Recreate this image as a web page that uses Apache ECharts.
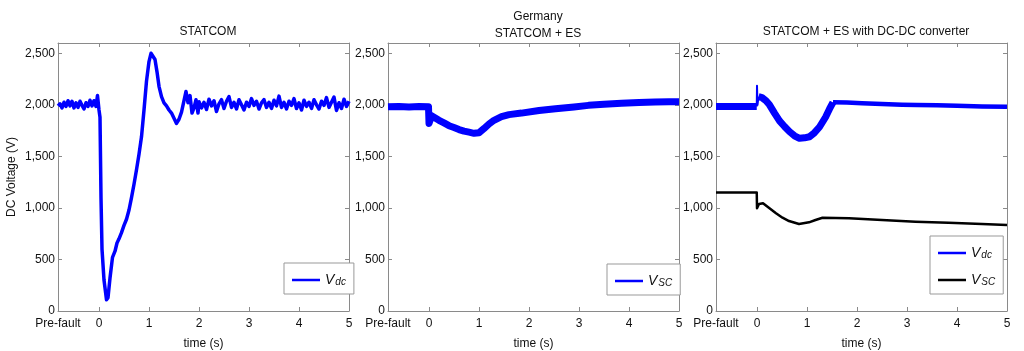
<!DOCTYPE html>
<html>
<head>
<meta charset="utf-8">
<script src="https://cdn.jsdelivr.net/npm/echarts@6/dist/echarts.min.js"></script>
<style>
html,body{margin:0;padding:0;background:#fff;}
#chart{width:1024px;height:351px;}
</style>
</head>
<body>
<div id="chart"></div>
<script>
// ---- Data ----
const panelTitles = ['STATCOM', 'Germany\nSTATCOM + ES', 'STATCOM + ES with DC-DC converter'];
const xTickValues = [0, 1, 2, 3, 4, 5];
const xPreFault = -0.82;
const yTickValues = [0, 500, 1000, 1500, 2000, 2500];

// Panel 1: STATCOM, Vdc
const p1T = [-0.82,-0.78,-0.74,-0.70,-0.66,-0.62,-0.58,-0.54,-0.50,-0.46,-0.42,-0.38,-0.34,-0.30,-0.26,-0.22,-0.18,-0.14,-0.10,-0.06,-0.03,0.0,0.02,0.04,0.06,0.10,0.15,0.18,0.22,0.27,0.32,0.36,0.40,0.45,0.50,0.55,0.60,0.65,0.70,0.75,0.80,0.85,0.90,0.95,1.00,1.04,1.08,1.12,1.16,1.20,1.25,1.30,1.35,1.40,1.45,1.50,1.55,1.60,1.65,1.70,1.74,1.78,1.82,1.86,1.90,1.94,1.98,
  2.00,2.05,2.10,2.15,2.20,2.25,2.30,2.35,2.40,2.45,2.50,2.55,2.60,2.65,2.70,2.75,2.80,2.85,2.90,2.95,3.00,3.05,3.10,3.15,3.20,3.25,3.30,3.35,3.40,3.45,3.50,3.55,3.60,3.65,3.70,3.75,3.80,3.85,3.90,3.95,4.00,4.05,4.10,4.15,4.20,4.25,4.30,4.35,4.40,4.45,4.50,4.55,4.60,4.65,4.70,4.75,4.80,4.85,4.90,4.95,5.00];
const p1Vdc = [1990,2010,1970,2025,1985,2040,1990,2035,1970,2020,1975,2035,1995,1960,2020,1985,2045,1990,2040,1985,2090,1950,1880,1100,600,300,110,130,320,520,580,660,700,760,830,890,980,1100,1230,1370,1520,1690,1950,2230,2420,2500,2510,2440,2320,2180,2080,2020,1990,1950,1920,1870,1820,1860,1930,2040,2130,2020,2090,1920,1970,2050,1920,
  2030,1970,2025,1955,2055,1990,2040,1935,2010,2050,1965,2035,2080,1975,2025,1960,2050,2000,1950,2025,1985,2060,1995,2035,1960,2020,2050,1975,2025,1965,2045,1990,2085,1975,2025,1960,2035,1995,2060,1965,2020,1950,2045,1985,2025,1965,2050,2000,1960,2035,1995,2070,1975,2025,2075,1945,2020,1965,2055,1985,2035];

// Panel 2: STATCOM + ES (Germany)
const p2T = [-0.82,-0.6,-0.4,-0.2,-0.01,0.0,0.02,0.05,0.1,0.2,0.3,0.4,0.5,0.6,0.7,0.8,0.9,1.0,1.1,1.2,1.3,1.45,1.6,1.85,2.2,2.53,2.9,3.19,3.5,3.85,4.2,4.52,4.8,5.0];
const p2Vsc = [1982,1985,1980,1984,1982,1820,1850,1895,1880,1850,1825,1798,1780,1760,1745,1735,1724,1730,1770,1814,1850,1885,1905,1920,1945,1963,1980,1995,2005,2015,2022,2028,2030,2030];

// Panel 3: STATCOM + ES with DC-DC converter
const p3TdcPre = [-0.82,-0.4,-0.005];
const p3VdcPre = [1983,1983,1983];
const p3TdcSpike = [-0.005,0.0,0.01,0.03];
const p3VdcSpike = [1983,2185,2000,2080];
const p3TdcA = [0.03,0.1,0.18,0.25,0.35,0.45,0.55,0.65,0.75,0.85,0.95,1.05,1.15,1.25,1.37,1.45,1.52];
const p3VdcA = [2080,2070,2040,2000,1920,1845,1790,1740,1700,1675,1680,1690,1730,1785,1880,1960,2025];
const p3TdcB = [1.52,1.8,2.1,2.5,2.9,3.2,3.6,4.0,4.5,5.0];
const p3VdcB = [2025,2022,2015,2008,2002,1998,1995,1992,1985,1982];
const p3Tsc = [-0.82,-0.005,0.0,0.02,0.04,0.12,0.25,0.38,0.51,0.64,0.84,1.04,1.17,1.31,1.84,2.5,3.17,3.83,4.5,5.0];
const p3Vsc = [1150,1150,996,1010,1038,1045,996,948,905,873,844,860,883,905,899,883,867,857,844,834];

// ---- Chart ----
const FONT = "'Liberation Sans', Arial, Helvetica, sans-serif";
const zip = (t, v) => t.map((x, i) => [x, v[i]]);
const gridLefts = [58, 388, 716];
const gridW = 291, gridTop = 43, gridH = 268;
const axisColor = '#8a8a8a';
const textColor = '#111';

const grids = gridLefts.map(l => ({left: l, top: gridTop, width: gridW, height: gridH, containLabel: false, outerBoundsMode: 'none'}));
const xAxes = [], yAxes = [];
gridLefts.forEach((l, i) => {
  xAxes.push({
    type: 'value', gridIndex: i, min: xPreFault, max: 5, position: 'bottom',
    name: 'time (s)', nameLocation: 'middle', nameGap: 27,
    nameTextStyle: {fontFamily: FONT, fontSize: 12, color: textColor},
    axisLine: {onZero: false, lineStyle: {color: axisColor}},
    axisTick: {inside: true, length: 4, customValues: xTickValues, lineStyle: {color: axisColor}},
    axisLabel: {customValues: [xPreFault].concat(xTickValues), margin: 7, fontFamily: FONT, fontSize: 12, color: textColor,
      formatter: v => (v < -0.5 ? 'Pre-fault' : String(Math.round(v)))},
    splitLine: {show: false}
  });
  xAxes.push({
    type: 'value', gridIndex: i, min: xPreFault, max: 5, position: 'top',
    axisLine: {onZero: false, lineStyle: {color: axisColor}},
    axisTick: {inside: true, length: 4, customValues: xTickValues, lineStyle: {color: axisColor}},
    axisLabel: {show: false}, splitLine: {show: false}
  });
  yAxes.push({
    type: 'value', gridIndex: i, min: 0, max: 2600, position: 'left',
    name: i === 0 ? 'DC Voltage (V)' : '', nameLocation: 'middle', nameGap: 40,
    nameTextStyle: {fontFamily: FONT, fontSize: 12, color: textColor},
    axisLine: {show: true, onZero: false, lineStyle: {color: axisColor}},
    axisTick: {show: true, inside: true, length: 4, customValues: yTickValues, lineStyle: {color: axisColor}},
    axisLabel: {customValues: yTickValues, margin: 3, fontFamily: FONT, fontSize: 12, color: textColor,
      formatter: v => v.toLocaleString('en-US')},
    splitLine: {show: false}
  });
  yAxes.push({
    type: 'value', gridIndex: i, min: 0, max: 2600, position: 'right',
    axisLine: {show: true, onZero: false, lineStyle: {color: axisColor}},
    axisTick: {show: true, inside: true, length: 4, customValues: yTickValues, lineStyle: {color: axisColor}},
    axisLabel: {show: false}, splitLine: {show: false}
  });
});

const BLUE = '#0000ff';
function lineSeries(name, gi, data, color, width) {
  return {type: 'line', name: name, xAxisIndex: 2 * gi, yAxisIndex: 2 * gi, data: data,
    symbol: 'none', showSymbol: false, color: color,
    lineStyle: {color: color, width: width, join: 'round'}, itemStyle: {color: color}, animation: false};
}
const series = [
  lineSeries('Vdc1', 0, zip(p1T, p1Vdc), BLUE, 3.5),
  lineSeries('Vsc2', 1, zip(p2T, p2Vsc), BLUE, 7),
  lineSeries('Vdc3', 2, zip(p3TdcPre, p3VdcPre), BLUE, 7),
  lineSeries('Vdc3', 2, zip(p3TdcSpike, p3VdcSpike), BLUE, 2),
  lineSeries('Vdc3', 2, zip(p3TdcA, p3VdcA), BLUE, 7),
  lineSeries('Vdc3', 2, zip(p3TdcB, p3VdcB), BLUE, 4.5),
  lineSeries('Vsc3', 2, zip(p3Tsc, p3Vsc), '#000', 2.5)
];

const rich = {
  v: {fontFamily: FONT, fontStyle: 'italic', fontSize: 14, color: textColor, verticalAlign: 'top', lineHeight: 14},
  s: {fontFamily: FONT, fontStyle: 'italic', fontSize: 10, color: textColor, verticalAlign: 'bottom', lineHeight: 10, padding: [7, 0, 0, 1]}
};
function legend(data, left, top, orient) {
  return {data: data, left: left, top: top, orient: orient || 'horizontal',
    backgroundColor: '#fff', borderColor: '#999', borderWidth: 1, padding: [7, 8, 7, 8],
    icon: 'rect', itemWidth: 28, itemHeight: 2.5, itemGap: 10, selectedMode: false,
    textStyle: {rich: rich},
    formatter: n => (n.indexOf('Vdc') === 0 ? '{v|V}{s|dc}' : '{v|V}{s|SC}')};
}

const option = {
  backgroundColor: '#fff',
  animation: false,
  title: [
    {text: panelTitles[0], left: 203, top: 21, textAlign: 'center', textStyle: {fontFamily: FONT, fontSize: 12, fontWeight: 'normal', color: textColor}},
    {text: panelTitles[1], left: 533, top: 3, textAlign: 'center', textStyle: {fontFamily: FONT, fontSize: 12, fontWeight: 'normal', color: textColor, lineHeight: 17}},
    {text: panelTitles[2], left: 861, top: 21, textAlign: 'center', textStyle: {fontFamily: FONT, fontSize: 12, fontWeight: 'normal', color: textColor}}
  ],
  grid: grids,
  xAxis: xAxes,
  yAxis: yAxes,
  legend: [
    legend(['Vdc1'], 284, 263),
    legend(['Vsc2'], 607, 264),
    legend(['Vdc3', 'Vsc3'], 930, 236, 'vertical')
  ],
  series: series
};
const chart = echarts.init(document.getElementById('chart'), null, {renderer: 'canvas'});
chart.setOption(option);
</script>
</body>
</html>
